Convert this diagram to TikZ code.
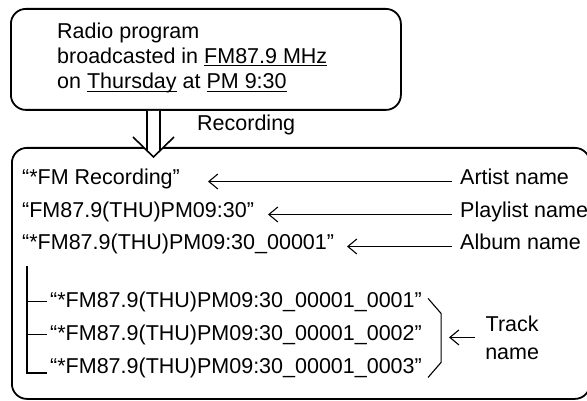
\documentclass[tikz,border=0pt]{standalone}
\usepackage{fontspec}
\setmainfont{Liberation Sans}
\usetikzlibrary{arrows.meta,positioning,calc}

\newcommand{\ulx}[1]{\setbox0\hbox{#1}\rlap{\rule[-3pt]{\wd0}{1.3pt}}\box0\relax}

\begin{document}
\begin{tikzpicture}[
  x=1pt, y=-1pt,
  frame/.style={draw, line width=1.8pt, rounded corners=15pt, anchor=north west},
  txt/.style={inner sep=0pt, anchor=base west, font=\fontsize{21.5}{25}\selectfont},
  ptr/.style={line width=1.1pt, -{Straight Barb[length=9pt,width=15pt]}},
  tree/.style={line width=1.1pt},
  dbl/.style={line width=1.6pt}
]
\useasboundingbox (0,0) rectangle (587,401);

% broadcast box
\node[frame, minimum width=390pt, minimum height=101pt] (src) at (10,8) {};
\node[txt] (l1) at (57,39) {Radio program};
\node[txt] (l2) at (57,63.5) {broadcasted in \ulx{FM87.9 MHz}};
\node[txt] (l3) at (57,89) {on \ulx{Thursday} at \ulx{PM 9:30}};

% library box
\node[frame, minimum width=578pt, minimum height=251pt] (lib) at (11,147) {};

% recording arrow
\coordinate (ax) at (153.5,0);
\coordinate (as) at (src.south -| ax);
\coordinate (ae) at (lib.north -| ax);
\fill[white] ($(as)+(-6.5,0)$) -- ($(ae)+(-6.5,-10)$) -- ($(ae)+(-20.5,-10)$) -- ($(ae)+(0,10)$)
  -- ($(ae)+(20.5,-10)$) -- ($(ae)+(6.5,-10)$) -- ($(as)+(6.5,0)$) -- cycle;
\draw[dbl] ($(as)+(-6.5,0)$) -- ($(ae)+(-6.5,3.7)$);
\draw[dbl] ($(as)+(6.5,0)$) -- ($(ae)+(6.5,3.7)$);
\draw[dbl] ($(ae)+(-20.5,-10)$) -- ($(ae)+(0,10)$) -- ($(ae)+(20.5,-10)$);
\node[txt] (rec) at (197,131) {Recording};

% entries
\node[txt] (artist) at (22,185) {“*FM Recording”};
\node[txt] (plist) at (22,218) {“FM87.9(THU)PM09:30”};
\node[txt] (album) at (22,250) {“*FM87.9(THU)PM09:30\_00001”};

\node[txt] (artlbl) at (460,185) {Artist name};
\node[txt] (pllbl) at (460,218) {Playlist name};
\node[txt] (allbl) at (460,250) {Album name};

\coordinate (artip) at (208,181.5);
\coordinate (pltip) at (268,214.5);
\coordinate (altip) at (347,246.5);
\draw[ptr] ($(artlbl.base west)+(-8pt,3.5pt)$) -- (artip);
\draw[ptr] ($(pllbl.base west)+(-8pt,3.5pt)$) -- (pltip);
\draw[ptr] ($(allbl.base west)+(-8pt,3.5pt)$) -- (altip);

% tracks
\coordinate (root) at (27,266);
\node[txt] (t1) at (50,307) {“*FM87.9(THU)PM09:30\_00001\_0001”};
\node[txt] (t2) at (50,340) {“*FM87.9(THU)PM09:30\_00001\_0002”};
\node[txt] (t3) at (50,373) {“*FM87.9(THU)PM09:30\_00001\_0003”};
\draw[tree] (root) |- ([xshift=-3pt]t3.base west);
\draw[tree] (root |- t1.west) -- ([xshift=-3pt]t1.west);
\draw[tree] (root |- t2.west) -- ([xshift=-3pt]t2.west);

\draw[tree] ($(t1.east)+(6pt,3pt)$) -- ++(13pt,-15pt) -- ($(t3.east)+(19pt,5pt)$) -- ++(-13pt,-15pt);
\coordinate (trtip) at ($(t2.east)+(27pt,-3pt)$);
\node[txt, anchor=west, align=center, font=\fontsize{21.5}{28}\selectfont] (tname) at ($(trtip)+(36pt,0)$) {Track\\name};
\draw[ptr] ([xshift=-10pt]tname.west) -- (trtip);
\end{tikzpicture}
\end{document}
